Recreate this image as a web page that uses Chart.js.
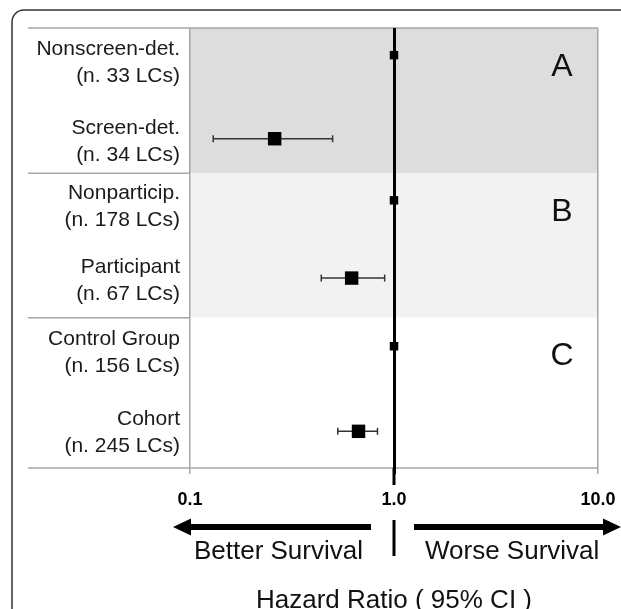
<!DOCTYPE html>
<html>
<head>
<meta charset="utf-8">
<script src="https://cdn.jsdelivr.net/npm/chart.js@4.4.0/dist/chart.umd.min.js"></script>
<style>
  html, body { margin: 0; padding: 0; background: #fff; }
  #wrap { width: 621px; height: 609px; }
</style>
</head>
<body>
<div id="wrap"><canvas id="forest"></canvas></div>
<script>
// rows from top to bottom, two per group
const rowLabels = [
  ['Nonscreen-det.', '(n. 33 LCs)'],
  ['Screen-det.', '(n. 34 LCs)'],
  ['Nonparticip.', '(n. 178 LCs)'],
  ['Participant', '(n. 67 LCs)'],
  ['Control Group', '(n. 156 LCs)'],
  ['Cohort', '(n. 245 LCs)']
];
const groupNames = ['A', 'B', 'C'];
const hazardRatio = [1.0, 0.26, 1.0, 0.62, 1.0, 0.67];
const ciLow  = [null, 0.13, null, 0.44, null, 0.53];
const ciHigh = [null, 0.50, null, 0.90, null, 0.83];
const xTicks = [0.1, 1, 10];

const FONT = '"Liberation Sans", Arial, sans-serif';
const groupColors = ['#dddddd', '#f2f2f2', '#ffffff'];
const ruleColor = '#a6a6a6';

// layout on the y axis (0 = top, 6 = bottom)
const groupBounds = [0, 1.98, 3.95, 6];
const rowY = [0.37, 1.51, 2.35, 3.41, 4.34, 5.5];
const labelY = [0.48, 1.55, 2.44, 3.44, 4.43, 5.52];

Chart.defaults.font.family = FONT;

const datasets = [{
  data: hazardRatio.map((v, i) => ({ x: v, y: rowY[i] })),
  pointStyle: 'rect',
  pointRadius: ctx => ciLow[ctx.dataIndex] === null ? 6 : 9.5,
  pointBackgroundColor: '#000',
  pointBorderWidth: 0
}];
hazardRatio.forEach((v, i) => {
  if (ciLow[i] === null) return;
  datasets.push({
    data: [{ x: ciLow[i], y: rowY[i] }, { x: ciHigh[i], y: rowY[i] }],
    showLine: true,
    borderColor: '#333',
    borderWidth: 1.5,
    pointStyle: 'line',
    pointRotation: 90,
    pointRadius: 3.5,
    pointBorderColor: '#333',
    pointBorderWidth: 1.5
  });
});

function drawArrow(ctx, from, tip, yy) {
  const dir = Math.sign(tip - from);
  const head = 18, half = 8.5, shaft = 6;
  const base = tip - dir * head;
  ctx.fillStyle = '#000';
  ctx.fillRect(Math.min(from, base), yy - shaft / 2, Math.abs(base - from), shaft);
  ctx.beginPath();
  ctx.moveTo(tip, yy);
  ctx.lineTo(base, yy - half);
  ctx.lineTo(base, yy + half);
  ctx.closePath();
  ctx.fill();
}

const forestDecor = {
  id: 'forestDecor',
  beforeDraw(chart) {
    const { ctx, chartArea: a, scales: { y } } = chart;
    ctx.save();
    // outer rounded frame (runs off the right and bottom edges)
    const fx = 12, fy = 10, r = 12;
    ctx.strokeStyle = '#333';
    ctx.lineWidth = 1.5;
    ctx.beginPath();
    ctx.moveTo(fx, 700);
    ctx.lineTo(fx, fy + r);
    ctx.arcTo(fx, fy, fx + r, fy, r);
    ctx.lineTo(700, fy);
    ctx.stroke();
    // group bands
    groupColors.forEach((c, g) => {
      const top = y.getPixelForValue(groupBounds[g]), bot = y.getPixelForValue(groupBounds[g + 1]);
      ctx.fillStyle = c;
      ctx.fillRect(a.left, top, a.right - a.left, bot - top);
    });
    // horizontal rules
    ctx.strokeStyle = ruleColor;
    ctx.lineWidth = 1.5;
    groupBounds.forEach((v, g) => {
      const py = y.getPixelForValue(v);
      const right = (g === 0 || g === groupBounds.length - 1) ? a.right : a.left;
      ctx.beginPath();
      ctx.moveTo(28, py);
      ctx.lineTo(right, py);
      ctx.stroke();
    });
    ctx.restore();
  },
  afterDraw(chart) {
    const { ctx, chartArea: a, scales: { x, y } } = chart;
    const x1 = x.getPixelForValue(1);
    const b = a.bottom;
    ctx.save();
    ctx.strokeStyle = '#000';
    ctx.lineWidth = 3;
    ctx.beginPath(); ctx.moveTo(x1, b); ctx.lineTo(x1, b + 17); ctx.stroke();
    ctx.beginPath(); ctx.moveTo(x1, b + 52); ctx.lineTo(x1, b + 88); ctx.stroke();

    drawArrow(ctx, x1 - 23, a.left - 17, b + 59);
    drawArrow(ctx, x1 + 20, a.right + 23, b + 59);

    ctx.fillStyle = '#111';
    ctx.font = '26px ' + FONT;
    ctx.textBaseline = 'middle';
    ctx.textAlign = 'right';
    ctx.fillText('Better Survival', x1 - 31, b + 84);
    ctx.textAlign = 'left';
    ctx.fillText('Worse Survival', x1 + 31, b + 84);

    ctx.font = '32px ' + FONT;
    ctx.textAlign = 'center';
    groupNames.forEach((g, i) => {
      ctx.fillText(g, a.right - 36, y.getPixelForValue(groupBounds[i]) + 39);
    });
    ctx.restore();
  }
};

new Chart(document.getElementById('forest'), {
  type: 'scatter',
  data: { datasets },
  plugins: [forestDecor],
  options: {
    responsive: true,
    maintainAspectRatio: false,
    animation: false,
    events: [],
    layout: { padding: { top: 28, right: 23, left: 0, bottom: 0 } },
    plugins: { legend: { display: false }, tooltip: { enabled: false } },
    scales: {
      x: {
        type: 'logarithmic',
        min: 0.1,
        max: 10,
        afterBuildTicks: s => { s.ticks = xTicks.map(v => ({ value: v })); },
        afterFit: s => { s.height = 141; s.paddingLeft = 0; s.paddingRight = 0; },
        ticks: {
          callback: v => Number(v).toFixed(1),
          font: { size: 18, weight: 'bold' },
          color: '#000',
          padding: 15,
          maxRotation: 0,
          autoSkip: false
        },
        grid: {
          color: ctx => ctx.tick && ctx.tick.value === 1 ? '#000' : ruleColor,
          lineWidth: ctx => ctx.tick && ctx.tick.value === 1 ? 3 : 1.5,
          tickLength: 6
        },
        border: { display: false },
        title: {
          display: true,
          text: 'Hazard Ratio ( 95% CI )',
          color: '#111',
          font: { size: 26, lineHeight: 0.62 },
          padding: 0
        }
      },
      y: {
        type: 'linear',
        reverse: true,
        min: 0,
        max: 6,
        afterBuildTicks: s => { s.ticks = labelY.map(v => ({ value: v })); },
        afterFit: s => { s.width = 190; s.paddingTop = 0; s.paddingBottom = 0; },
        ticks: {
          callback: (v, i) => rowLabels[i],
          font: { size: 21, lineHeight: 1.286 },
          color: '#1a1a1a',
          padding: 10,
          autoSkip: false
        },
        grid: { display: false, drawTicks: false },
        border: { display: false }
      }
    }
  }
});
</script>
</body>
</html>
